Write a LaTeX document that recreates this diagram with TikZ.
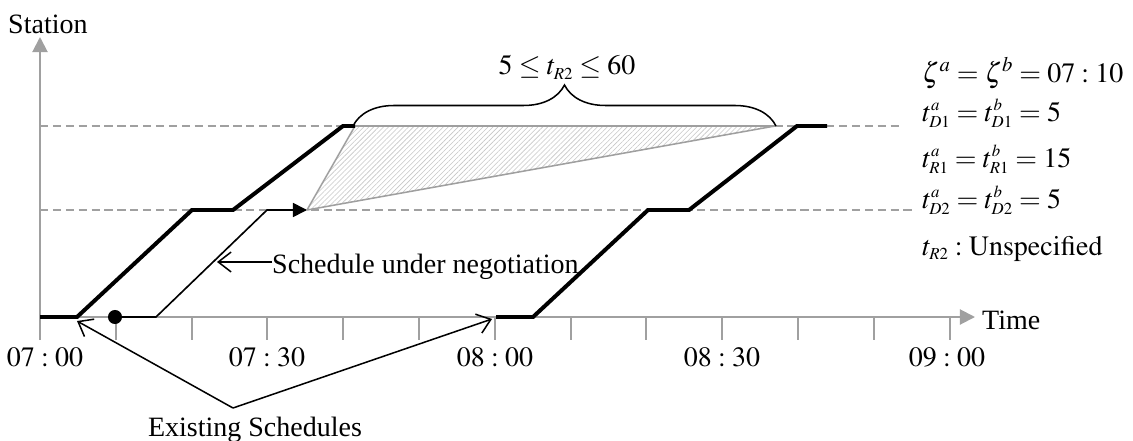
\documentclass[tikz,border=0pt]{standalone}
\usepackage{mathptmx}
\usepackage{fontspec}
\setmainfont{Liberation Serif}
\usetikzlibrary{arrows.meta,patterns.meta,decorations.pathreplacing}
\definecolor{axisgray}{RGB}{160,160,160}
\newcommand{\tsub}[3]{#1^{\scriptscriptstyle #2}_{\scriptscriptstyle #3}}
\begin{document}
\begin{tikzpicture}[x=0.3mm,y=-0.3mm,font=\fontsize{23.9}{28}\selectfont,
  axisline/.style={axisgray,line width=1.7pt},
  dashgrid/.style={axisgray,line width=1.1pt,dash pattern=on 7pt off 4pt},
  thickline/.style={line width=3.4pt},
  thinline/.style={line width=1.4pt},
  pointer/.style={line width=1.3pt,-{Straight Barb[length=11pt,width=17pt,line width=1.3pt]}},
  txt/.style={inner sep=0pt},
  param/.style={txt,anchor=base west,text height=15pt,text depth=4pt}]

\useasboundingbox (0,0) rectangle (1133,441);

% axes
\draw[axisline,-{Triangle[length=13pt,width=13pt]}] (40,340) -- (40,37);
\draw[axisline,-{Triangle[length=13pt,width=13pt]}] (40,317) -- (975,317);
\node[txt,anchor=base west] (station) at (8,34) {Station};
\node[txt,anchor=base west] (time) at (982,329) {Time};

\foreach \k in {1,...,12}
  \draw[axisline] ({40+75.8*\k},317) -- ++(0,23);
\foreach \x/\lab in {45/07:00,267/07:30,495/08:00,722/08:30,947/09:00}
  \node[txt,anchor=base] at (\x,366) {$\lab$};

% station levels
\draw[dashgrid] (40,126) -- (900,126);
\draw[dashgrid] (40,210) -- (914,210);

% feasible region for t_R2
\fill[pattern={Lines[angle=45,distance=3pt,line width=0.5pt]},pattern color=gray!45]
  (307,210) -- (355,126) -- (775,126) -- cycle;
\draw[gray!75,line width=1.3pt,line join=round] (307,210) -- (355,126) -- (775,126) -- cycle;

\draw[line width=1.3pt,decorate,decoration={brace,amplitude=35pt}] (353,126) -- (776,126);
\node[txt,anchor=base] (range) at (567,75) {$5\le t_{\scriptscriptstyle R2}\le 60$};

% existing schedules
\draw[thickline] (40,317) -- (77,317) -- (192,210) -- (233,210) -- (343,126) -- (355,126);
\draw[thickline] (496,317) -- (533,317) -- (648,210) -- (689,210) -- (797,126) -- (827,126);

% schedule under negotiation
\fill (115,317) circle (6pt);
\draw[thinline,-{Triangle[length=12pt,width=12pt]}] (115,317) -- (156,317) -- (267,210) -- (307,210);

\node[txt,anchor=base west] (nego) at (272,273) {Schedule under negotiation};
\coordinate (negtip) at (217,262);
\draw[pointer] (nego.west |- negtip) -- (negtip);

\node[txt,anchor=base] (exist) at (255,436) {Existing Schedules};
\coordinate (apex) at (233,408);
\coordinate (tipA) at (77,321);
\coordinate (tipB) at (492,319);
\draw[pointer] (apex) -- (tipA);
\draw[pointer] (apex) -- (tipB);

% parameters
\node[param] (zeta) at (922,82) {$\zeta^a=\zeta^b=07:10$};
\node[param] (tdone) at (922,121) {$\tsub{t}{a}{D1}=\tsub{t}{b}{D1}=5$};
\node[param] (trone) at (922,167) {$\tsub{t}{a}{R1}=\tsub{t}{b}{R1}=15$};
\node[param] (tdtwo) at (922,208) {$\tsub{t}{a}{D2}=\tsub{t}{b}{D2}=5$};
\node[param] (trtwo) at (922,255) {$t_{\scriptscriptstyle R2}:\mathrm{Unspecified}$};

\end{tikzpicture}
\end{document}
